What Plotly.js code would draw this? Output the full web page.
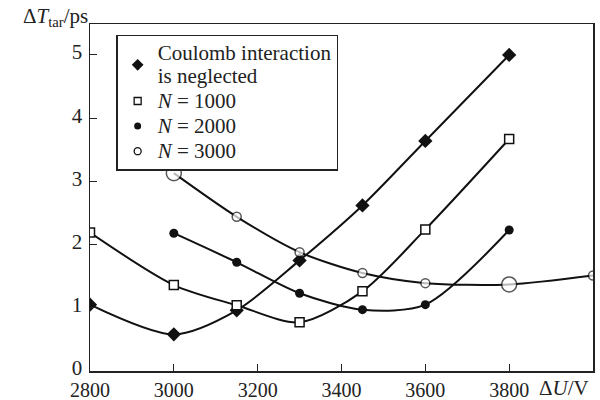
<!DOCTYPE html>
<html>
<head>
<meta charset="utf-8">
<script src="https://cdn.plot.ly/plotly-3.0.1.min.js"></script>
<style>html,body{margin:0;padding:0;background:#fff;}#chart{width:600px;height:400px;}</style>
</head>
<body>
<div id="chart"></div>
<script>
const xCoulomb = [2800, 3000, 3150, 3300, 3450, 3600, 3800];
const yCoulomb = [1.05, 0.58, 0.96, 1.75, 2.62, 3.64, 5.0];
const xN1000 = [2800, 3000, 3150, 3300, 3450, 3600, 3800];
const yN1000 = [2.19, 1.36, 1.04, 0.77, 1.26, 2.24, 3.67];
const xN2000 = [3000, 3150, 3300, 3450, 3600, 3800];
const yN2000 = [2.18, 1.72, 1.23, 0.97, 1.05, 2.23];
const xN3000 = [3000, 3150, 3300, 3450, 3600, 3800, 4000];
const yN3000 = [3.13, 2.44, 1.88, 1.55, 1.39, 1.37, 1.51];
const sizeN3000 = [15, 9, 9, 9, 9, 15, 9];
const xTicks = [2800, 3000, 3200, 3400, 3600, 3800];
const yTicks = [0, 1, 2, 3, 4, 5];
const names = ["Coulomb interaction<br>is neglected", "<i>N</i> = 1000", "<i>N</i> = 2000", "<i>N</i> = 3000"];

const serif = "Liberation Serif";
const FS = 21;
const wrap = s => '<span style="font-size:' + FS + 'px">' + s + '</span>';
const line = {color: '#111', width: 2, shape: 'spline', smoothing: 0.8};
const markers = [
  {symbol: 'diamond', size: 11, color: '#111'},
  {symbol: 'square', size: 9, color: 'white', line: {color: '#111', width: 1.5}},
  {symbol: 'circle', size: 9, color: '#111'},
  {symbol: 'circle', size: sizeN3000, color: 'white', line: {color: '#111', width: 1.5}}
];
const legendMarkers = [
  {symbol: 'diamond', size: 9, color: '#111'},
  {symbol: 'square', size: 7, color: 'white', line: {color: '#111', width: 1.3}},
  {symbol: 'circle', size: 7, color: '#111'},
  {symbol: 'circle', size: 7, color: 'white', line: {color: '#111', width: 1.3}}
];
const xs = [xCoulomb, xN1000, xN2000, xN3000];
const ys = [yCoulomb, yN1000, yN2000, yN3000];
const traces = [];
for (let i = 0; i < 4; i++) {
  traces.push({x: xs[i], y: ys[i], mode: 'lines+markers', line: line, marker: markers[i], showlegend: false});
}
for (let i = 0; i < 4; i++) {
  traces.push({x: [null], y: [null], name: wrap(names[i]), mode: 'markers', marker: legendMarkers[i], showlegend: true});
}

const font = {family: serif, color: '#222', size: FS};
const layout = {
  width: 600, height: 400,
  margin: {l: 90, r: 7, t: 24, b: 29},
  paper_bgcolor: '#fff', plot_bgcolor: '#fff',
  font: font,
  showlegend: true,
  legend: {x: 0.052, y: 0.969, xanchor: 'left', yanchor: 'top', bgcolor: '#fff',
           bordercolor: '#222', borderwidth: 1.5, font: {family: serif, size: 17, color: '#222'},
           itemwidth: 30, tracegroupgap: 0},
  xaxis: {range: [2800, 4000], tickvals: xTicks, ticktext: xTicks.map(String), ticks: 'inside', ticklen: 7,
          tickcolor: '#222', showline: true, linecolor: '#222', linewidth: 1.5, mirror: true,
          showgrid: false, zeroline: false, tickfont: {family: serif, size: 20, color: '#222'}, ticklabelstandoff: 0},
  yaxis: {range: [0, 5.49], tickvals: yTicks, ticktext: yTicks.map(String), ticks: 'inside', ticklen: 7,
          tickcolor: '#222', showline: true, linecolor: '#222', linewidth: 1.5, mirror: true,
          showgrid: false, zeroline: false, tickfont: {family: serif, size: FS, color: '#222'},
          ticklabelstandoff: 2, ticklabelshift: -3},
  annotations: [
    {xref: 'paper', yref: 'paper', x: 0.888, y: 0, yshift: -17, xanchor: 'left', yanchor: 'middle',
     text: 'Δ<i>U</i>/V', showarrow: false, font: {family: serif, size: FS, color: '#222'}},
    {xref: 'paper', yref: 'paper', x: 0.0, y: 1.0, xanchor: 'right', yanchor: 'bottom',
     text: 'Δ<i>T</i><sub>tar</sub>/ps', showarrow: false, font: {family: serif, size: FS, color: '#222'}, yshift: -8}
  ]
};
Plotly.newPlot('chart', traces, layout, {staticPlot: true});
</script>
</body>
</html>
